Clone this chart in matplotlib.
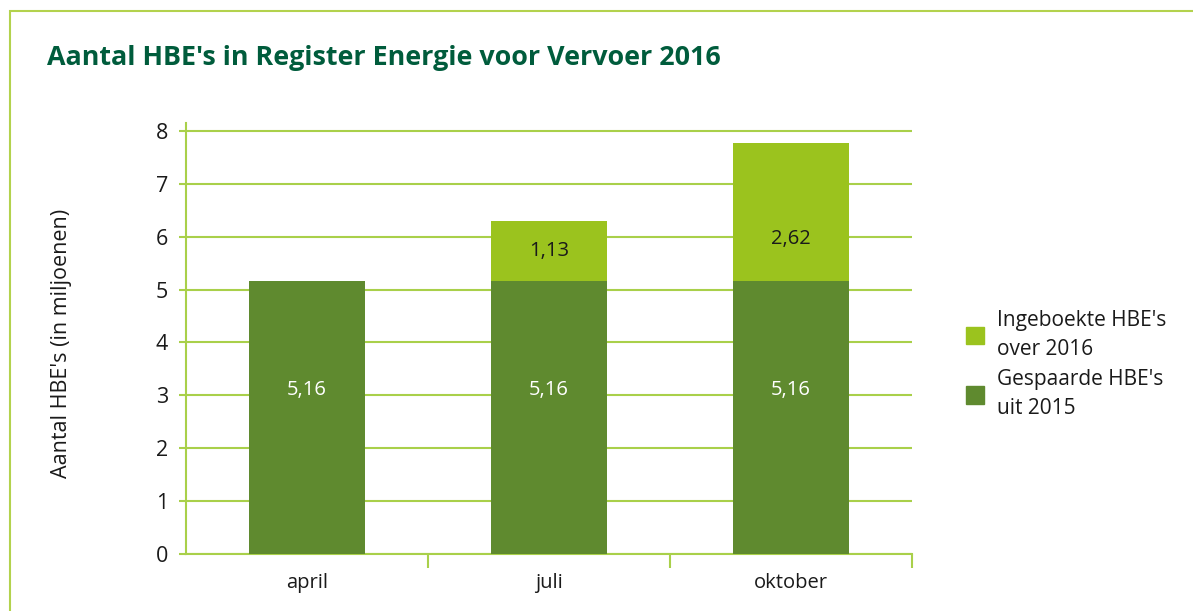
import matplotlib.pyplot as plt
from matplotlib.patches import Rectangle

plt.rcParams['font.family'] = ['Open Sans', 'DejaVu Sans']

months = ['april', 'juli', 'oktober']
gespaard = [5.16, 5.16, 5.16]
ingeboekt = [0, 1.13, 2.62]
lbl_gespaard = ['5,16', '5,16', '5,16']
lbl_ingeboekt = ['', '1,13', '2,62']

dark = '#5f8a2f'
light = '#9bc31e'
grid_c = '#a9d04a'
title_c = '#005c3c'
txt = '#1a1a1a'

fig = plt.figure(figsize=(11.93, 6.11), dpi=100)
# frame line on left and top
fig.add_artist(Rectangle((10/1193, -0.1), 2, 1.1 - 11/611, transform=fig.transFigure,
                         fill=False, edgecolor='#b3d24d', linewidth=1.5))

ax = fig.add_axes([186/1193, 1-554/611, (912-186)/1193, (554-123)/611])
x = range(len(months))
ax.bar(x, gespaard, width=0.48, color=dark, zorder=3)
ax.bar(x, ingeboekt, width=0.48, bottom=gespaard, color=light, zorder=3)

for i in x:
    ax.text(i, gespaard[i]*0.6, lbl_gespaard[i], ha='center', va='center',
            color='white', fontsize=14.5, zorder=4)
    if ingeboekt[i] > 0:
        ty = gespaard[i] + min(ingeboekt[i]/2, 0.8)
        ax.text(i, ty, lbl_ingeboekt[i], ha='center', va='center',
                color=txt, fontsize=14.5, zorder=4)

ax.set_xlim(-0.5, 2.5)
ax.set_ylim(0, 8.15)
ax.set_yticks(range(9))
ax.yaxis.grid(True, color=grid_c, linewidth=1.5, zorder=0)
ax.set_xticks([0.5, 1.5, 2.5])
ax.set_xticklabels([])
ax.set_xticks(list(x), minor=True)
ax.set_xticklabels(months, minor=True)
ax.tick_params(axis='x', which='major', length=10, width=1.5, color=grid_c)
ax.tick_params(axis='x', which='minor', length=0, pad=14, labelsize=14.5, labelcolor=txt)
ax.tick_params(axis='y', length=5, width=1.5, color=grid_c, labelsize=15.5,
               labelcolor=txt, pad=8)
for s in ['top', 'right']:
    ax.spines[s].set_visible(False)
ax.spines['left'].set_color(grid_c)
ax.spines['bottom'].set_color(grid_c)
ax.spines['left'].set_linewidth(1.5)
ax.spines['bottom'].set_linewidth(1.5)

fig.text(62/1193, 1-343/611, "Aantal HBE's (in miljoenen)", rotation=90,
         ha='center', va='center', fontsize=15.5, fontweight='medium', color=txt)
fig.text(47/1193, 1-58/611, "Aantal HBE's in Register Energie voor Vervoer 2016",
         ha='left', va='center', fontsize=19.4, fontweight='bold', color=title_c)

leg = ax.legend(handles=[Rectangle((0, 0), 1, 1, color=light),
                         Rectangle((0, 0), 1, 1, color=dark)],
                labels=["Ingeboekte HBE's\nover 2016", "Gespaarde HBE's\nuit 2015"],
                loc='center left', bbox_to_anchor=(1.048, 0.44), frameon=False,
                fontsize=15, handlelength=0.9, handleheight=0.9, handletextpad=0.6,
                labelspacing=0.45, labelcolor=txt)
for t in leg.get_texts():
    t.set_linespacing(1.5)

fig.savefig('out.png', dpi=100)
